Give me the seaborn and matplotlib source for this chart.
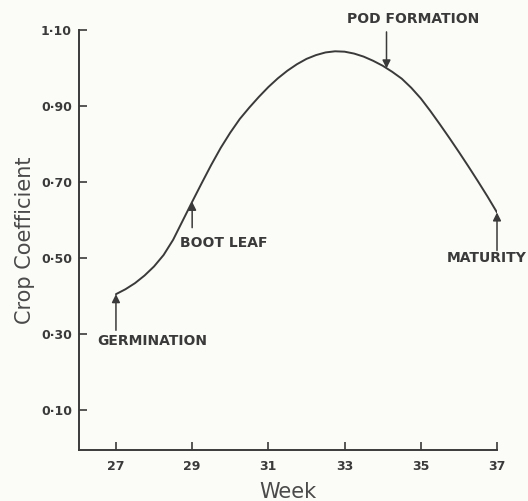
import matplotlib
matplotlib.use("Agg")
import matplotlib.pyplot as plt
import seaborn as sns
import pandas as pd

# values
weeks = [27.0, 27.25, 27.5, 27.75, 28.0, 28.25, 28.5, 28.75, 29.0, 29.25, 29.5, 29.75,
         30.0, 30.25, 30.5, 30.75, 31.0, 31.25, 31.5, 31.75, 32.0, 32.25, 32.5, 32.75,
         33.0, 33.25, 33.5, 33.75, 34.0, 34.25, 34.5, 34.75, 35.0, 35.25, 35.5, 35.75,
         36.0, 36.25, 36.5, 36.75, 37.0]
crop_coef = [0.405, 0.418, 0.434, 0.454, 0.478, 0.508, 0.548, 0.598, 0.648, 0.697, 0.745, 0.790,
             0.830, 0.866, 0.896, 0.924, 0.950, 0.973, 0.993, 1.010, 1.024, 1.034, 1.041, 1.044,
             1.043, 1.038, 1.030, 1.019, 1.006, 0.990, 0.972, 0.948, 0.920, 0.887, 0.852, 0.816,
             0.779, 0.741, 0.702, 0.662, 0.620]

stages = ["GERMINATION", "BOOT LEAF", "POD FORMATION", "MATURITY"]
stage_week = [27.0, 29.0, 34.1, 37.0]
stage_coef = [0.405, 0.648, 0.999, 0.62]

x_ticks = [27, 29, 31, 33, 35, 37]
y_ticks = [0.10, 0.30, 0.50, 0.70, 0.90, 1.10]
y_tick_labels = ["0·10", "0·30", "0·50", "0·70", "0·90", "1·10"]

ink = "#3a3a3a"
paper = "#fbfbf7"

sns.set_theme(style="ticks")
plt.rcParams["font.family"] = ["DejaVu Sans"]

df = pd.DataFrame({"Week": weeks, "Crop Coefficient": crop_coef})

fig = plt.figure(figsize=(5.28, 5.01), dpi=100, facecolor=paper)
ax = fig.add_axes([0.1496, 0.1018, 0.7917, 0.8383])
ax.set_facecolor(paper)

sns.lineplot(data=df, x="Week", y="Crop Coefficient", ax=ax, color=ink, linewidth=1.4)

ax.set_xlim(26.03, 37.0)
ax.set_ylim(-0.005, 1.10)
ax.set_xticks(x_ticks)
ax.set_yticks(y_ticks)
ax.set_yticklabels(y_tick_labels)

sns.despine(ax=ax)
for s in ["left", "bottom"]:
    ax.spines[s].set_color(ink)
    ax.spines[s].set_linewidth(1.4)

ax.tick_params(axis="both", direction="in", length=6, width=1.2, color=ink,
               labelcolor=ink, labelsize=9)
ax.tick_params(axis="y", pad=5)
ax.tick_params(axis="x", pad=7)
for lab in ax.get_xticklabels() + ax.get_yticklabels():
    lab.set_fontweight("bold")

ax.set_xlabel("Week", fontsize=15, color="#4a4a4a", labelpad=7)
ax.set_ylabel("Crop Coefficient", fontsize=15, color="#4a4a4a", labelpad=4)

arrow = dict(arrowstyle="-|>", color=ink, lw=1.1, mutation_scale=12, shrinkA=0, shrinkB=0)
txt = dict(fontsize=10, color=ink, fontweight="bold", va="center", clip_on=False)

# GERMINATION: arrow up from below
ax.annotate("", xy=(stage_week[0], stage_coef[0]), xytext=(stage_week[0], 0.31),
            arrowprops=arrow)
ax.text(26.5, 0.283, stages[0], ha="left", **txt)

# BOOT LEAF: arrow up from below
ax.annotate("", xy=(stage_week[1], stage_coef[1]), xytext=(stage_week[1], 0.58),
            arrowprops=arrow)
ax.text(28.68, 0.54, stages[1], ha="left", **txt)

# POD FORMATION: arrow down from above
ax.annotate("", xy=(stage_week[2], stage_coef[2]), xytext=(stage_week[2], 1.095),
            arrowprops=arrow)
ax.text(33.07, 1.13, stages[2], ha="left", **txt)

# MATURITY: arrow up from below
ax.annotate("", xy=(stage_week[3], stage_coef[3]), xytext=(stage_week[3], 0.52),
            arrowprops=arrow, annotation_clip=False)
ax.text(37.78, 0.50, stages[3], ha="right", **txt)

fig.savefig("out.png", dpi=100, facecolor=paper)
